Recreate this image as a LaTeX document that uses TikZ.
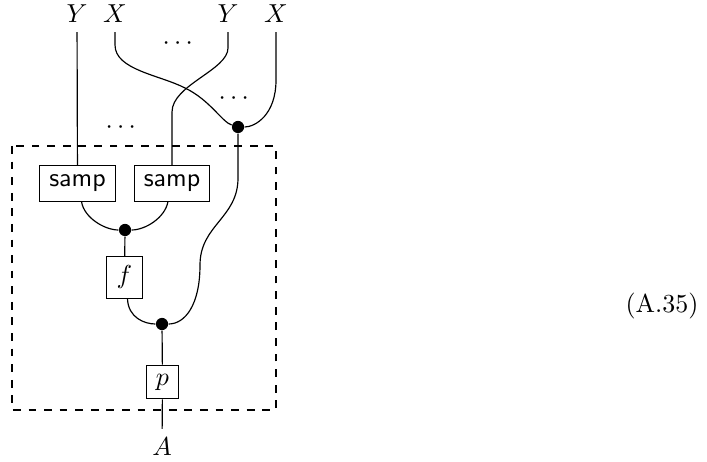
\documentclass[tikz,border=0pt]{standalone}
\usepackage{amsmath,amssymb}
\usepackage{tikz}
\usetikzlibrary{positioning,calc}

\begin{document}
\begin{tikzpicture}[
    x=0.385pt, y=-0.385pt,
    box/.style={rectangle, draw, inner sep=0pt, text centered},
    sampbox/.style={box, minimum width=29pt, minimum height=13.5pt, font=\sffamily},
    dot/.style={circle, fill=black, inner sep=0pt, minimum size=4.7pt},
    wire/.style={line width=0.45pt}
]
    \useasboundingbox (0,0) rectangle (707,462);

    % Inputs
    \node (ya) at (77,14) {$Y$};
    \node (xa) at (115,14) {$X$};
    \node (yb) at (228,14) {$Y$};
    \node (xb) at (276,14) {$X$};
    \node (dotsa) at (180,44) {$\cdots$};
    \node (dotsb) at (236,99) {$\cdots$};
    \node (dotsc) at (123,128) {$\cdots$};

    % Inside the dashed box
    \draw[dashed] (12,146) rectangle (276,410);
    \node[sampbox] (sampa) at (77.5,183.5) {samp};
    \node[sampbox] (sampb) at (172,183.5) {samp};
    \node[dot] (joina) at (125,230) {};
    \node[box, minimum width=13.5pt, minimum height=15.8pt] (f) at (124.5,277.5) {$f$};
    \node[dot] (merge) at (238,127) {};
    \node[dot] (joinb) at (162,324) {};
    \node[box, minimum width=12pt, minimum height=13pt] (p) at (162.5,382) {$p$};

    % Output
    \node (out) at (162,447) {$A$};
    \node (eqno) at (662,306) {(A.35)};

    % Wires
    \draw[wire] (ya) -- (sampa);
    \draw[wire] (xa.south) -- (115,45) .. controls (115,70) and (160,75) .. (185,88)
        .. controls (210,100) and (222,122) .. (merge);
    \draw[wire] (yb.south) -- (228,48) .. controls (228,70) and (172,85) .. (172,112) -- (sampb);
    \draw[wire] (xb.south) -- (276,80) .. controls (276,115) and (255,127) .. (merge);
    \draw[wire] ($(sampa.south)+(4,0)$) .. controls (84,218) and (105,230) .. (joina);
    \draw[wire] ($(sampb.south)+(-4,0)$) .. controls (165,218) and (145,230) .. (joina);
    \draw[wire] (joina) -- (f);
    \draw[wire] (merge) -- (238,178) .. controls (238,218) and (200,225) .. (200,265)
        .. controls (200,305) and (185,324) .. (joinb);
    \draw[wire] ($(f.south)+(3,0)$) .. controls (128,318) and (145,324) .. (joinb);
    \draw[wire] (joinb) -- (p);
    \draw[wire] (p) -- (out);
\end{tikzpicture}
\end{document}
